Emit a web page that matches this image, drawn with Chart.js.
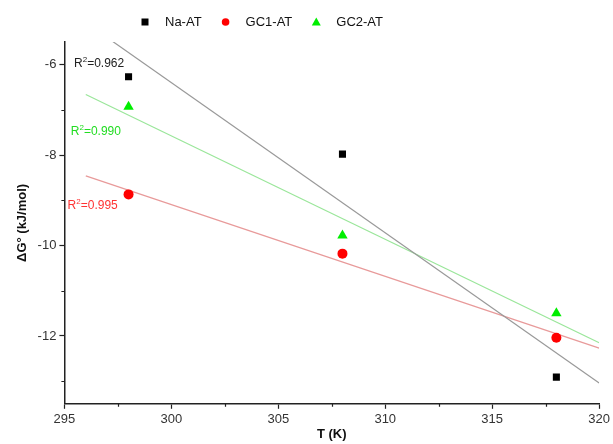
<!DOCTYPE html>
<html><head><meta charset="utf-8">
<script src="https://cdn.jsdelivr.net/npm/chart.js@4.4.0/dist/chart.umd.min.js"></script>
<style>html,body{margin:0;padding:0;background:#fff;}canvas{display:block;}</style>
</head><body>
<canvas id="c" width="613" height="444"></canvas>
<script>
const temperatures = [298, 308, 318];
const naAT = [-6.27, -7.98, -12.91];
const gc1AT = [-8.87, -10.18, -12.04];
const gc2AT = [-6.93, -9.78, -11.50];
const fitX = [296, 320];
const naFit = [-5.07, -13.04];
const gc1Fit = [-8.46, -12.27];
const gc2Fit = [-6.66, -12.15];
const xTicks = [295, 297.5, 300, 302.5, 305, 307.5, 310, 312.5, 315, 317.5, 320];
const yTicks = [-13, -12, -11, -10, -9, -8, -7, -6];
const r2Values = ['0.962', '0.990', '0.995'];
const r2Colors = ['#222222', '#22dd22', '#ff3333'];
const r2AnchorX = [295.45, 295.3, 295.15];
const r2AnchorY = [-6.05, -7.55, -9.2];

const FONT = '"Liberation Sans", Arial, sans-serif';
const pts = (xs, ys) => xs.map((x, i) => ({x, y: ys[i]}));
const isMajorX = v => v % 5 === 0;
const isMajorY = v => Math.abs(v) % 2 === 0;

const r2Plugin = {
  id: 'r2',
  afterDatasetsDraw(chart) {
    const ctx = chart.ctx, xs = chart.scales.x, ys = chart.scales.y;
    ctx.save();
    ctx.textBaseline = 'alphabetic';
    ctx.textAlign = 'left';
    r2Values.forEach((v, i) => {
      let px = xs.getPixelForValue(r2AnchorX[i]), py = ys.getPixelForValue(r2AnchorY[i]);
      ctx.fillStyle = r2Colors[i];
      ctx.font = '12px ' + FONT;
      ctx.fillText('R', px, py);
      px += ctx.measureText('R').width;
      ctx.font = '8px ' + FONT;
      ctx.fillText('2', px, py - 5);
      px += ctx.measureText('2').width;
      ctx.font = '12px ' + FONT;
      ctx.fillText('=' + v, px, py);
    });
    ctx.restore();
  }
};

const minorTickPlugin = {
  id: 'minorTicks',
  afterDraw(chart) {
    const ctx = chart.ctx, xs = chart.scales.x, ys = chart.scales.y;
    ctx.save();
    ctx.strokeStyle = '#222';
    ctx.lineWidth = 1.2;
    ctx.beginPath();
    xTicks.filter(v => !isMajorX(v)).forEach(v => {
      const px = Math.round(xs.getPixelForValue(v)) + 0.5;
      ctx.moveTo(px, xs.top); ctx.lineTo(px, xs.top + 3);
    });
    yTicks.filter(v => !isMajorY(v)).forEach(v => {
      const py = Math.round(ys.getPixelForValue(v)) + 0.5;
      ctx.moveTo(ys.right, py); ctx.lineTo(ys.right - 3, py);
    });
    ctx.stroke();
    ctx.restore();
  }
};

const legendPlugin = {
  id: 'customLegend',
  afterDraw(chart) {
    const ctx = chart.ctx;
    ctx.save();
    ctx.font = '13px ' + FONT;
    ctx.textBaseline = 'middle';
    ctx.textAlign = 'left';
    let x = 145;
    const y = 22;
    chart.data.datasets.filter(d => !d.isFit).forEach(d => {
      ctx.fillStyle = d.backgroundColor;
      ctx.beginPath();
      if (d.pointStyle === 'rect') {
        ctx.rect(x - 3.5, y - 3.5, 7, 7);
      } else if (d.pointStyle === 'circle') {
        ctx.arc(x, y, 3.8, 0, Math.PI * 2);
      } else {
        ctx.moveTo(x, y - 4.5); ctx.lineTo(x + 4.5, y + 3.5); ctx.lineTo(x - 4.5, y + 3.5); ctx.closePath();
      }
      ctx.fill();
      ctx.fillStyle = '#111';
      const tx = x + 20;
      ctx.fillText(d.label, tx, y);
      x = tx + ctx.measureText(d.label).width + 24;
    });
    ctx.restore();
  }
};

new Chart(document.getElementById('c'), {
  type: 'scatter',
  data: {
    datasets: [
      {label: 'Na-AT', data: pts(temperatures, naAT), pointStyle: 'rect', pointRadius: 5, backgroundColor: '#000000', borderColor: '#000000', borderWidth: 0, order: 1},
      {label: 'GC1-AT', data: pts(temperatures, gc1AT), pointStyle: 'circle', pointRadius: 5, backgroundColor: '#ff0000', borderColor: '#ff0000', borderWidth: 0, order: 1},
      {label: 'GC2-AT', data: pts(temperatures, gc2AT), pointStyle: 'triangle', pointRadius: 6, backgroundColor: '#00ee00', borderColor: '#00ee00', borderWidth: 0, order: 1},
      {label: 'fitNa', isFit: true, type: 'line', data: pts(fitX, naFit), showLine: true, pointRadius: 0, borderColor: '#999999', borderWidth: 1.2, order: 2},
      {label: 'fitGC1', isFit: true, type: 'line', data: pts(fitX, gc1Fit), showLine: true, pointRadius: 0, borderColor: '#e89a9a', borderWidth: 1.2, order: 2},
      {label: 'fitGC2', isFit: true, type: 'line', data: pts(fitX, gc2Fit), showLine: true, pointRadius: 0, borderColor: '#9ae69a', borderWidth: 1.2, order: 2}
    ]
  },
  options: {
    responsive: false,
    animation: false,
    layout: {padding: {left: 15, right: 8, top: 42, bottom: 2}},
    plugins: {
      legend: {display: false},
      tooltip: {enabled: false}
    },
    scales: {
      x: {
        type: 'linear', min: 295, max: 320,
        afterBuildTicks: s => { s.ticks = xTicks.map(v => ({value: v})); },
        border: {display: true, color: '#222', width: 1.5},
        grid: {drawOnChartArea: false, drawTicks: true, tickLength: 5, tickWidth: 1.2,
          tickColor: c => (c.tick && isMajorX(c.tick.value) ? '#222' : 'rgba(0,0,0,0)')},
        ticks: {color: '#333', padding: 3, autoSkip: false, maxRotation: 0,
          font: {family: FONT, size: 13},
          callback: v => (isMajorX(v) ? String(v) : '')},
        title: {display: true, text: 'T (K)', color: '#111', padding: {top: -4, bottom: 0},
          font: {family: FONT, size: 13, weight: 'bold'}}
      },
      y: {
        type: 'linear', min: -13.5, max: -5.5,
        afterBuildTicks: s => { s.ticks = yTicks.map(v => ({value: v})); },
        border: {display: true, color: '#222', width: 1.5},
        grid: {drawOnChartArea: false, drawTicks: true, tickLength: 5, tickWidth: 1.2,
          tickColor: c => (c.tick && isMajorY(c.tick.value) ? '#222' : 'rgba(0,0,0,0)')},
        ticks: {color: '#333', padding: 3, autoSkip: false,
          font: {family: FONT, size: 13},
          callback: v => (isMajorY(v) ? String(v) : '')},
        title: {display: true, text: 'ΔG° (kJ/mol)', color: '#111', padding: {top: 0, bottom: 4},
          font: {family: FONT, size: 13, weight: 'bold'}}
      }
    }
  },
  plugins: [r2Plugin, minorTickPlugin, legendPlugin]
});
</script>
</body></html>
